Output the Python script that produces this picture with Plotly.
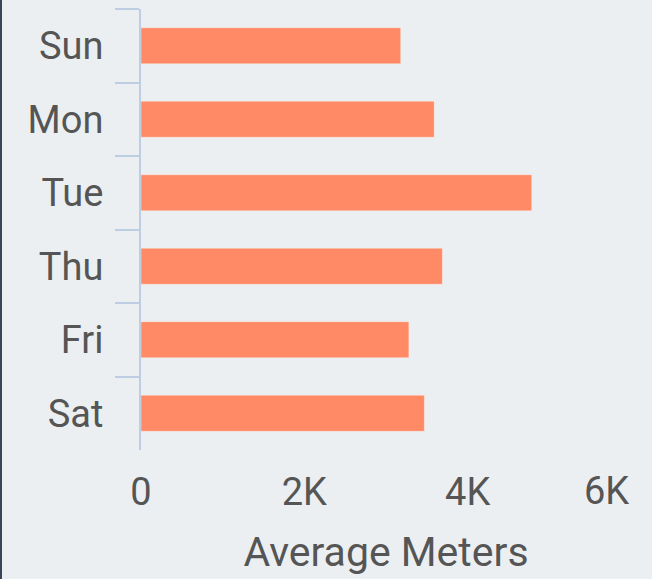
import plotly.graph_objects as go

days = ["Sun", "Mon", "Tue", "Thu", "Fri", "Sat"]
avg_meters = [3180, 3590, 4785, 3690, 3280, 3470]
x_tick_vals = [0, 2000, 4000]
x_tick_text = ["0", "2K", "4K"]
x_last_val = 6000
x_last_text = "6K"

BG = "#ECEFF1"
TXT = "#555555"
AX = "#BDCEE3"
FONT = "Roboto"
FS = 38

W, H = 657, 579
ml, mr, mt, mb = 141, 26, 9, 129
pw = W - ml - mr
ph = H - mt - mb

fig = go.Figure()
fig.add_trace(go.Bar(
    y=days, x=avg_meters, orientation="h",
    marker=dict(color="#FF8A65", line=dict(color="rgba(255,255,255,0.35)", width=1)),
    hoverinfo="x+y",
))

fig.update_layout(
    width=W, height=H,
    margin=dict(l=ml, r=mr, t=mt, b=mb),
    paper_bgcolor=BG, plot_bgcolor=BG,
    bargap=0.51,
    showlegend=False,
    font=dict(family=FONT, color=TXT, size=FS),
    yaxis=dict(
        categoryorder="array", categoryarray=days, autorange="reversed",
        tickson="boundaries", ticks="outside", ticklen=24, tickwidth=2, tickcolor=AX,
        showline=True, linecolor=AX, linewidth=2, showgrid=False, zeroline=False,
        ticklabelstandoff=28,
        tickfont=dict(family=FONT, size=FS, color=TXT),
    ),
    xaxis=dict(
        range=[0, 6000], showgrid=False, zeroline=False, showline=False,
        tickmode="array", tickvals=x_tick_vals, ticktext=x_tick_text,
        ticks="", ticklabelstandoff=16,
        tickfont=dict(family=FONT, size=FS, color=TXT),
        title=dict(text="Average Meters", font=dict(family=FONT, size=41, color=TXT), standoff=24),
    ),
    annotations=[
        dict(x=x_last_val, xref="x", y=-41 / ph, yref="paper",
             text=x_last_text, showarrow=False, xanchor="right", yanchor="middle",
             font=dict(family=FONT, size=FS, color=TXT)),
    ],
    shapes=[
        dict(type="rect", xref="paper", yref="paper",
             x0=(652 - ml) / pw, x1=(W - ml + 5) / pw, y0=-1, y1=2,
             fillcolor="white", line=dict(width=0), layer="below"),
        dict(type="rect", xref="paper", yref="paper",
             x0=(0 - ml - 2) / pw, x1=(2 - ml) / pw, y0=-1, y1=2,
             fillcolor="#3A4658", line=dict(width=0), layer="below"),
    ],
)

fig.write_html("out.html", config={"displayModeBar": False},
               post_script="document.body.style.margin='0';")
